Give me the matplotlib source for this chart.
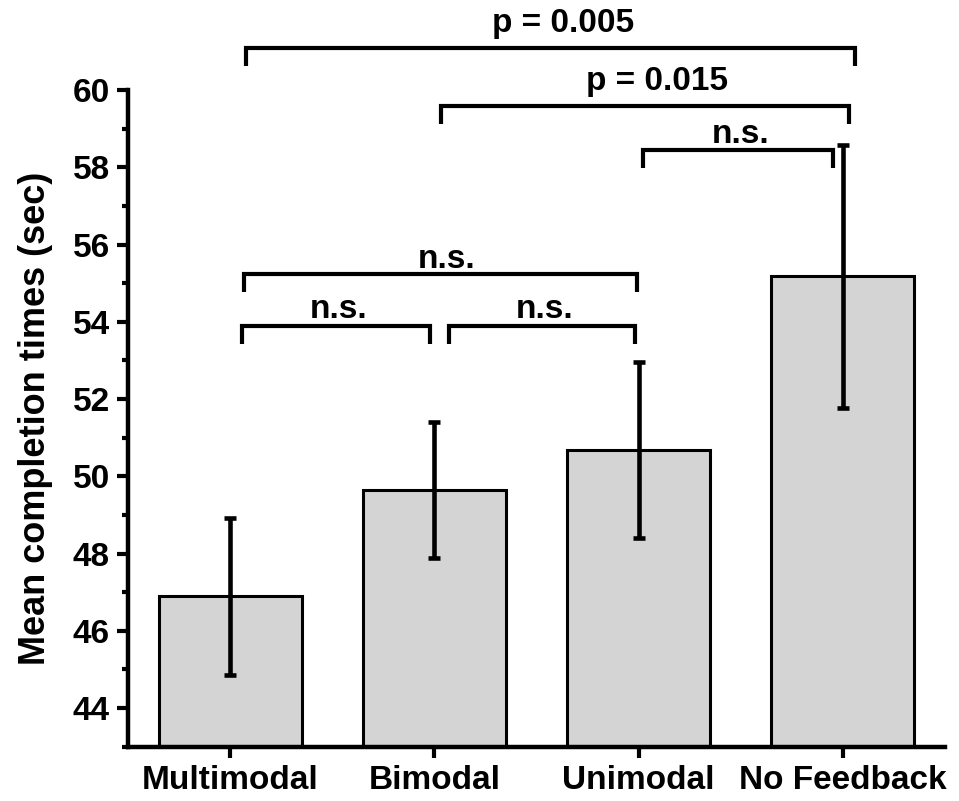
import matplotlib
matplotlib.use("Agg")
import matplotlib.pyplot as plt
from matplotlib.ticker import MultipleLocator

plt.rcParams['font.family'] = ['Liberation Sans', 'DejaVu Sans']
plt.rcParams['font.weight'] = 'bold'

categories = ["Multimodal", "Bimodal", "Unimodal", "No Feedback"]
means = [46.89, 49.64, 50.68, 55.18]
errors = [2.04, 1.76, 2.27, 3.40]

# significance brackets: left x, right x, height, label
br_left = [0.08, 1.03, 2.02, 0.07, 0.06, 1.07]
br_right = [3.06, 3.03, 2.95, 1.99, 0.98, 1.98]
br_height = [61.09, 59.59, 58.45, 55.24, 53.89, 53.89]
br_labels = ["p = 0.005", "p = 0.015", "n.s.", "n.s.", "n.s.", "n.s."]
label_x = [1.63, 2.09, 2.50, 1.06, 0.53, 1.54]
label_gap = [0.40, 0.42, 0.19, 0.16, 0.20, 0.20]
drop = 0.47

fig = plt.figure(figsize=(9.59, 8.01), dpi=100)
ax = fig.add_axes([128/959, 1 - 746.7/801, (945-128)/959, (746.7-90)/801])

x = list(range(len(categories)))
ax.bar(x, means, width=0.70, color='#d4d4d4', edgecolor='black', linewidth=2.2, zorder=2)
ax.errorbar(x, means, yerr=errors, fmt='none', ecolor='black', elinewidth=3.3,
            capsize=4.5, capthick=3.3, zorder=3)

ax.set_xlim(-0.5, 3.5)
ax.set_ylim(43, 60)
ax.yaxis.set_minor_locator(MultipleLocator(1))
ax.set_yticks([44, 46, 48, 50, 52, 54, 56, 58, 60])
ax.set_xticks(x)
ax.set_xticklabels(categories, fontsize=24, fontweight='bold')
for lab in ax.get_yticklabels():
    lab.set_fontsize(24)
    lab.set_fontweight('bold')

for s in ['top', 'right']:
    ax.spines[s].set_visible(False)
for s in ['left', 'bottom']:
    ax.spines[s].set_linewidth(3.2)

ax.tick_params(axis='both', which='major', direction='out', length=8, width=3, pad=5)
ax.tick_params(axis='y', which='minor', direction='out', length=4, width=3)
ax.tick_params(axis='x', which='minor', length=0)

ax.set_ylabel("Mean completion times (sec)", fontsize=26, fontweight='bold', labelpad=14)

for x0, x1, y, lab, lx, gap in zip(br_left, br_right, br_height, br_labels, label_x, label_gap):
    ax.plot([x0, x0, x1, x1], [y - drop, y, y, y - drop], color='black', lw=3,
            clip_on=False, solid_capstyle='butt', solid_joinstyle='miter', zorder=4)
    ax.text(lx, y + gap, lab, ha='center', va='baseline', fontsize=24,
            fontweight='bold', clip_on=False)

fig.savefig("out.png", dpi=100)
